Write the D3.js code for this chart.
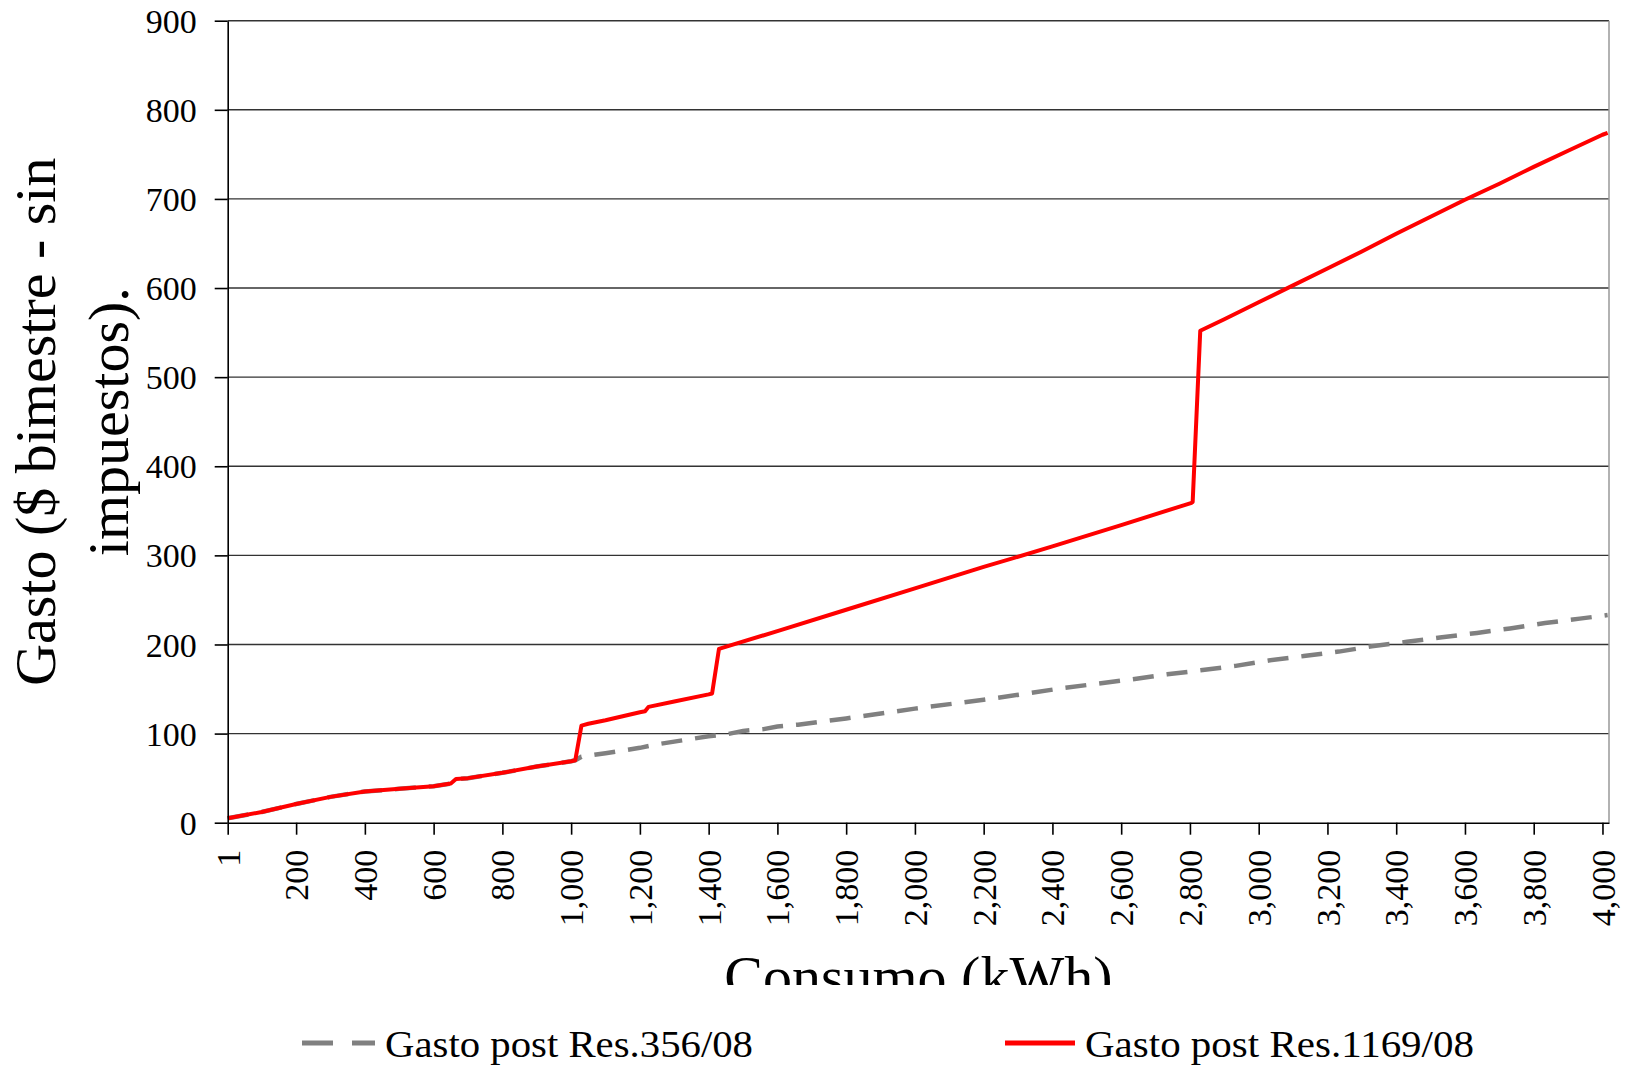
<!DOCTYPE html>
<html>
<head>
<meta charset="utf-8">
<script src="https://cdn.jsdelivr.net/npm/d3@7"></script>
<style>
  html, body { margin: 0; padding: 0; background: #fff; }
  svg { display: block; }
  text { font-family: "Liberation Serif", "Times New Roman", serif; fill: #000; }
</style>
</head>
<body>
<svg id="chart" width="1628" height="1067"></svg>
<script>
// Gasto bimestral (sin impuestos) según consumo, tarifas post Res.356/08 y post Res.1169/08
const consumoRes1169 = [1, 100, 200, 300, 400, 500, 600, 650, 665, 700, 800, 900, 1000, 1012, 1030, 1050, 1100, 1200, 1215, 1225, 1300, 1400, 1410, 1430, 1600, 1800, 2000, 2200, 2400, 2600, 2805, 2808, 2830, 2900, 3000, 3100, 3200, 3300, 3400, 3500, 3600, 3700, 3800, 3900, 4000, 4015];
const gastoRes1169   = [5, 12, 21, 29, 35, 38, 41, 44, 49, 50, 56, 63, 69, 70, 109, 111, 115, 124, 125, 130, 136, 144, 145, 195, 215, 239, 263, 287, 310, 334, 359, 360, 552, 565, 584, 603, 622, 641, 661, 680, 699, 717, 736, 754, 772, 774];

const consumoRes356 = [1, 100, 200, 300, 400, 500, 600, 650, 665, 700, 800, 900, 1000, 1012, 1030, 1100, 1200, 1250, 1300, 1350, 1400, 1450, 1500, 1560, 1600, 1660, 1800, 2000, 2200, 2327, 2429, 2531, 2633, 2734, 2831, 2933, 3029, 3131, 3233, 3329, 3431, 3533, 3635, 3731, 3833, 3934, 4015];
const gastoRes356   = [5, 12, 21, 29, 35, 38, 41, 44, 49, 50, 56, 63, 69, 70, 74, 78, 84, 88, 91, 94, 97, 99, 103, 105, 108, 110, 117, 128, 138, 145, 151, 156, 161, 166.5, 171, 176, 182, 187, 192, 198, 203, 208, 213, 218, 224, 229, 233];

const xTicks = [1, 200, 400, 600, 800, 1000, 1200, 1400, 1600, 1800, 2000, 2200, 2400, 2600, 2800, 3000, 3200, 3400, 3600, 3800, 4000];
const yTicks = [0, 100, 200, 300, 400, 500, 600, 700, 800, 900];

const seriesNames = ["Gasto post Res.356/08", "Gasto post Res.1169/08"];
const yTitleLines = ["Gasto ($ bimestre - sin", "impuestos)."];
const xTitle = "Consumo (kWh)";

const svg = d3.select("#chart");
const W = 1628, H = 1067;
const plot = { left: 227.7, right: 1609, top: 20.7, bottom: 822.7 };

const x = d3.scaleLinear().domain([1, 4019]).range([plot.left, plot.right]);
const y = d3.scaleLinear().domain([0, 900]).range([plot.bottom, plot.top]);

// horizontal gridlines
svg.append("g")
  .selectAll("line")
  .data(yTicks.filter(d => d > 0))
  .join("line")
  .attr("x1", plot.left).attr("x2", plot.right)
  .attr("y1", d => y(d)).attr("y2", d => y(d))
  .attr("stroke", "#333").attr("stroke-width", 1.4);

// right edge of the plot area
svg.append("line")
  .attr("x1", plot.right).attr("x2", plot.right)
  .attr("y1", plot.top).attr("y2", plot.bottom)
  .attr("stroke", "#999").attr("stroke-width", 1.5);

// series lines
const toPoints = (xs, ys) => xs.map((v, i) => [v, ys[i]]);
const line = d3.line().x(d => x(d[0])).y(d => y(d[1]));

svg.append("path")
  .datum(toPoints(consumoRes356, gastoRes356))
  .attr("d", line)
  .attr("fill", "none")
  .attr("stroke", "#808080")
  .attr("stroke-width", 4.5)
  .attr("stroke-dasharray", "21,13");

svg.append("path")
  .datum(toPoints(consumoRes1169, gastoRes1169))
  .attr("d", line)
  .attr("fill", "none")
  .attr("stroke", "#ff0000")
  .attr("stroke-width", 4)
  .attr("stroke-linejoin", "round");

// y axis
const yAxis = svg.append("g")
  .attr("transform", `translate(${plot.left},0)`)
  .call(d3.axisLeft(y).tickValues(yTicks).tickSize(13).tickSizeOuter(0).tickPadding(18));
yAxis.select(".domain").attr("stroke", "#000").attr("stroke-width", 1.6);
yAxis.selectAll(".tick line").attr("stroke", "#000").attr("stroke-width", 1.6);
yAxis.selectAll(".tick text")
  .attr("dy", "0.34em")
  .style("font-family", "'Liberation Serif', serif")
  .style("font-size", "34px")
  .attr("fill", "#000");

// x axis
const xAxis = svg.append("g")
  .attr("transform", `translate(0,${plot.bottom})`)
  .call(d3.axisBottom(x).tickValues(xTicks).tickSize(12).tickSizeOuter(0).tickFormat(d3.format(",")));
xAxis.select(".domain").attr("stroke", "#000").attr("stroke-width", 1.6);
xAxis.selectAll(".tick line").attr("stroke", "#000").attr("stroke-width", 1.6);
xAxis.selectAll(".tick text")
  .attr("transform", "rotate(-90)")
  .attr("text-anchor", "end")
  .attr("x", -27)
  .attr("y", 0)
  .attr("dy", "0.34em")
  .style("font-family", "'Liberation Serif', serif")
  .style("font-size", "34px")
  .attr("fill", "#000");

// y axis title (two lines)
const yMid = (plot.top + plot.bottom) / 2;
[55, 128].forEach((bx, i) => {
  svg.append("text")
    .attr("transform", `translate(${bx},${yMid}) rotate(-90)`)
    .attr("text-anchor", "middle")
    .style("font-size", "58px")
    .text(yTitleLines[i]);
});

// x axis title, clipped at the bottom of the chart area
svg.append("clipPath").attr("id", "chartArea")
  .append("rect").attr("x", 0).attr("y", 0).attr("width", W).attr("height", 985);
svg.append("text")
  .attr("clip-path", "url(#chartArea)")
  .attr("x", (plot.left + plot.right) / 2)
  .attr("y", 996)
  .attr("text-anchor", "middle")
  .style("font-size", "58px")
  .text(xTitle);

// legend
const legendY = 1043;
const legend = svg.append("g");
legend.append("line")
  .attr("x1", 302).attr("x2", 375)
  .attr("y1", legendY).attr("y2", legendY)
  .attr("stroke", "#808080").attr("stroke-width", 5)
  .attr("stroke-dasharray", "31,19");
legend.append("text")
  .attr("x", 385).attr("y", 1056.7)
  .attr("textLength", 368).attr("lengthAdjust", "spacingAndGlyphs")
  .style("font-size", "38px")
  .text(seriesNames[0]);
legend.append("line")
  .attr("x1", 1005).attr("x2", 1075)
  .attr("y1", legendY).attr("y2", legendY)
  .attr("stroke", "#ff0000").attr("stroke-width", 5);
legend.append("text")
  .attr("x", 1085).attr("y", 1056.7)
  .attr("textLength", 389).attr("lengthAdjust", "spacingAndGlyphs")
  .style("font-size", "38px")
  .text(seriesNames[1]);
</script>
</body>
</html>
